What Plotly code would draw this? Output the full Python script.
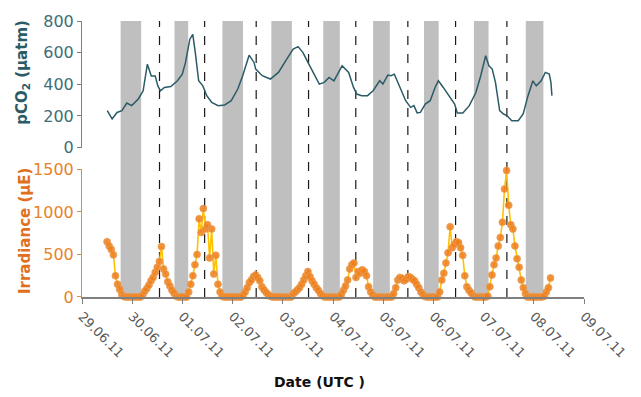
import pandas as pd
import plotly.graph_objects as go

BASE = pd.Timestamp("2011-06-29")

# pCO2 (µatm) - time as day offset from 29.06.11 00:00 UTC
pco2_day = [0.503, 0.600, 0.698, 0.795, 0.893, 0.990, 1.121, 1.218, 1.302, 1.380,
            1.458, 1.511, 1.563, 1.641, 1.770, 1.901, 1.998, 2.062, 2.148, 2.207,
            2.257, 2.324, 2.407, 2.485, 2.583, 2.713, 2.842, 2.973, 3.103, 3.201,
            3.329, 3.427, 3.460, 3.591, 3.752, 3.914, 4.078, 4.207, 4.304, 4.402,
            4.519, 4.630, 4.727, 4.825, 4.922, 5.019, 5.181, 5.312, 5.409, 5.474,
            5.571, 5.688, 5.799, 5.930, 5.994, 6.092, 6.156, 6.222, 6.320, 6.448,
            6.546, 6.612, 6.676, 6.741, 6.838, 6.936, 7.033, 7.099, 7.197, 7.326,
            7.423, 7.476, 7.587, 7.715, 7.846, 7.943, 8.041, 8.105, 8.172, 8.236,
            8.320, 8.398, 8.464, 8.561, 8.690, 8.788, 8.885, 8.982, 9.049, 9.146,
            9.230, 9.308, 9.341, 9.361]
pco2_val = [233, 181, 222, 233, 281, 265, 307, 359, 527, 453,
            453, 390, 359, 380, 386, 422, 464, 538, 685, 716,
            600, 422, 390, 328, 286, 265, 269, 296, 370, 454,
            584, 538, 496, 454, 433, 475, 559, 622, 638, 600,
            527, 454, 401, 412, 443, 422, 517, 475, 380, 338,
            328, 328, 359, 422, 401, 458, 454, 464, 390, 296,
            254, 265, 219, 222, 275, 296, 380, 422, 380, 317,
            275, 219, 219, 265, 348, 454, 580, 517, 496, 412,
            233, 212, 202, 170, 170, 212, 328, 422, 390, 422,
            475, 464, 412, 328]

# Irradiance (µE), hourly samples starting 29.06.11 12:00 UTC
irr_start = "2011-06-29 12:00"
irr_2906 = [651, 600, 560, 496, 250, 150, 90, 29, 5, 0, 0, 0]
irr_3006 = [0, 0, 0, 0, 0, 20, 68, 100, 140, 190, 230, 290, 350, 418, 593, 330,
            270, 180, 130, 80, 45, 10, 0, 0]
irr_0107 = [0, 0, 0, 60, 150, 250, 380, 500, 920, 760, 1040, 800, 850, 460, 800, 270,
            490, 150, 60, 10, 0, 0, 0, 0]
irr_0207 = [0, 0, 0, 0, 0, 20, 60, 110, 170, 200, 240, 260, 230, 190, 120, 85,
            55, 30, 10, 0, 0, 0, 0, 0]
irr_0307 = [0, 0, 0, 0, 0, 40, 60, 85, 110, 150, 200, 250, 300, 240, 190, 150,
            110, 80, 40, 15, 0, 0, 0, 0]
irr_0407 = [0, 0, 0, 0, 30, 80, 130, 200, 330, 380, 400, 230, 300, 280, 320, 300,
            250, 120, 60, 25, 0, 0, 0, 0]
irr_0507 = [0, 0, 0, 0, 0, 40, 110, 200, 230, 220, 190, 210, 240, 230, 210, 190,
            150, 110, 60, 30, 5, 0, 0, 0]
irr_0607 = [0, 0, 0, 60, 200, 280, 400, 520, 826, 580, 620, 650, 640, 580, 490, 250,
            120, 80, 50, 15, 0, 0, 0, 0]
irr_0707 = [0, 0, 10, 120, 260, 380, 460, 600, 700, 880, 1270, 1488, 1080, 850, 800, 600,
            450, 350, 200, 110, 40, 0, 0, 0]
irr_0807 = [0, 0, 0, 0, 0, 10, 60, 110, 224]

# Night periods (grey bars) and dashed reference lines, as day offsets
night_start = [0.770, 1.842, 2.797, 3.772, 4.805, 5.799, 6.813, 7.807, 8.840]
night_end = [1.179, 2.115, 3.207, 4.181, 5.136, 6.131, 7.105, 8.099, 9.191]
dash_day = [1.544, 2.443, 3.470, 4.513, 5.454, 6.491, 7.442, 8.464]

tick_dates = pd.date_range("2011-06-29", "2011-07-09", freq="D")

irr_val = (irr_2906 + irr_3006 + irr_0107 + irr_0207 + irr_0307 + irr_0407
           + irr_0507 + irr_0607 + irr_0707 + irr_0807)
irr_time = pd.date_range(irr_start, periods=len(irr_val), freq="h")
pco2_time = BASE + pd.to_timedelta(pco2_day, unit="D")

def d(x):
    return BASE + pd.to_timedelta(x, unit="D")

FONT = "DejaVu Sans"
TEAL = "#2b5b66"
ORANGE = "#e8822a"

fig = go.Figure()
fig.add_trace(go.Scatter(x=pco2_time, y=pco2_val, mode="lines",
                         line=dict(color=TEAL, width=1.5), xaxis="x", yaxis="y",
                         showlegend=False))
fig.add_trace(go.Scatter(x=irr_time, y=irr_val, mode="lines+markers",
                         line=dict(color="#ffc000", width=1.6),
                         marker=dict(size=7, color="rgba(240,125,25,0.85)",
                                     line=dict(color="rgba(230,160,90,0.9)", width=0.8)),
                         xaxis="x", yaxis="y2", cliponaxis=False, showlegend=False))

shapes = []
for s, e in zip(night_start, night_end):
    shapes.append(dict(type="rect", xref="x", yref="paper", x0=d(s), x1=d(e), y0=0, y1=1,
                       fillcolor="#bfbfbf", line=dict(width=0), layer="below"))
for t in dash_day:
    shapes.append(dict(type="line", xref="x", yref="paper", x0=d(t), x1=d(t), y0=0, y1=1,
                       line=dict(color="#1a1a1a", width=1.2, dash="dash"), layer="below"))

fig.update_layout(
    width=641, height=397,
    margin=dict(l=82, r=46, t=20, b=100),
    paper_bgcolor="white", plot_bgcolor="white",
    font=dict(family=FONT, size=15),
    shapes=shapes,
    xaxis=dict(type="date", range=[tick_dates[0], tick_dates[-1]], anchor="y2",
               tickvals=tick_dates, tickformat="%d.%m.%y", tickangle=45,
               tickfont=dict(size=13, color="#595959"),
               showline=True, linecolor="#808080", linewidth=1.5,
               ticks="outside", ticklen=5, tickcolor="#808080",
               showgrid=False, zeroline=False),
    yaxis=dict(domain=[0.5415, 1], range=[0, 800], tickvals=[0, 200, 400, 600, 800],
               anchor="x", showline=True, linecolor="#808080", linewidth=1,
               ticks="outside", ticklen=4, tickcolor="#808080",
               tickfont=dict(size=16, color="#3e6e78"),
               showgrid=False, zeroline=False),
    yaxis2=dict(domain=[0, 0.462], range=[0, 1500], tickvals=[0, 500, 1000, 1500],
                anchor="x", showline=True, linecolor="#c9925a", linewidth=1,
                ticks="outside", ticklen=4, tickcolor="#c9925a",
                tickfont=dict(size=16, color=ORANGE),
                showgrid=False, zeroline=False),
    annotations=[
        dict(text="<b>pCO<sub>2</sub> (µatm)</b>", xref="paper", yref="paper",
             x=-0.12, y=0.815, textangle=-90, showarrow=False,
             xanchor="center", yanchor="middle",
             font=dict(size=15, color=TEAL, family=FONT)),
        dict(text="<b>Irradiance (µE)</b>", xref="paper", yref="paper",
             x=-0.115, y=0.24, textangle=-90, showarrow=False,
             xanchor="center", yanchor="middle",
             font=dict(size=15, color="#e07020", family=FONT)),
        dict(text="<b>Date (UTC )</b>", xref="paper", yref="paper",
             x=0.4727, y=-0.308, showarrow=False,
             xanchor="center", yanchor="middle",
             font=dict(size=14, color="#111111", family=FONT)),
    ],
)

fig.write_html("out.html", config={"displayModeBar": False},
               post_script="document.body.style.margin='0';document.body.style.overflow='hidden';")
